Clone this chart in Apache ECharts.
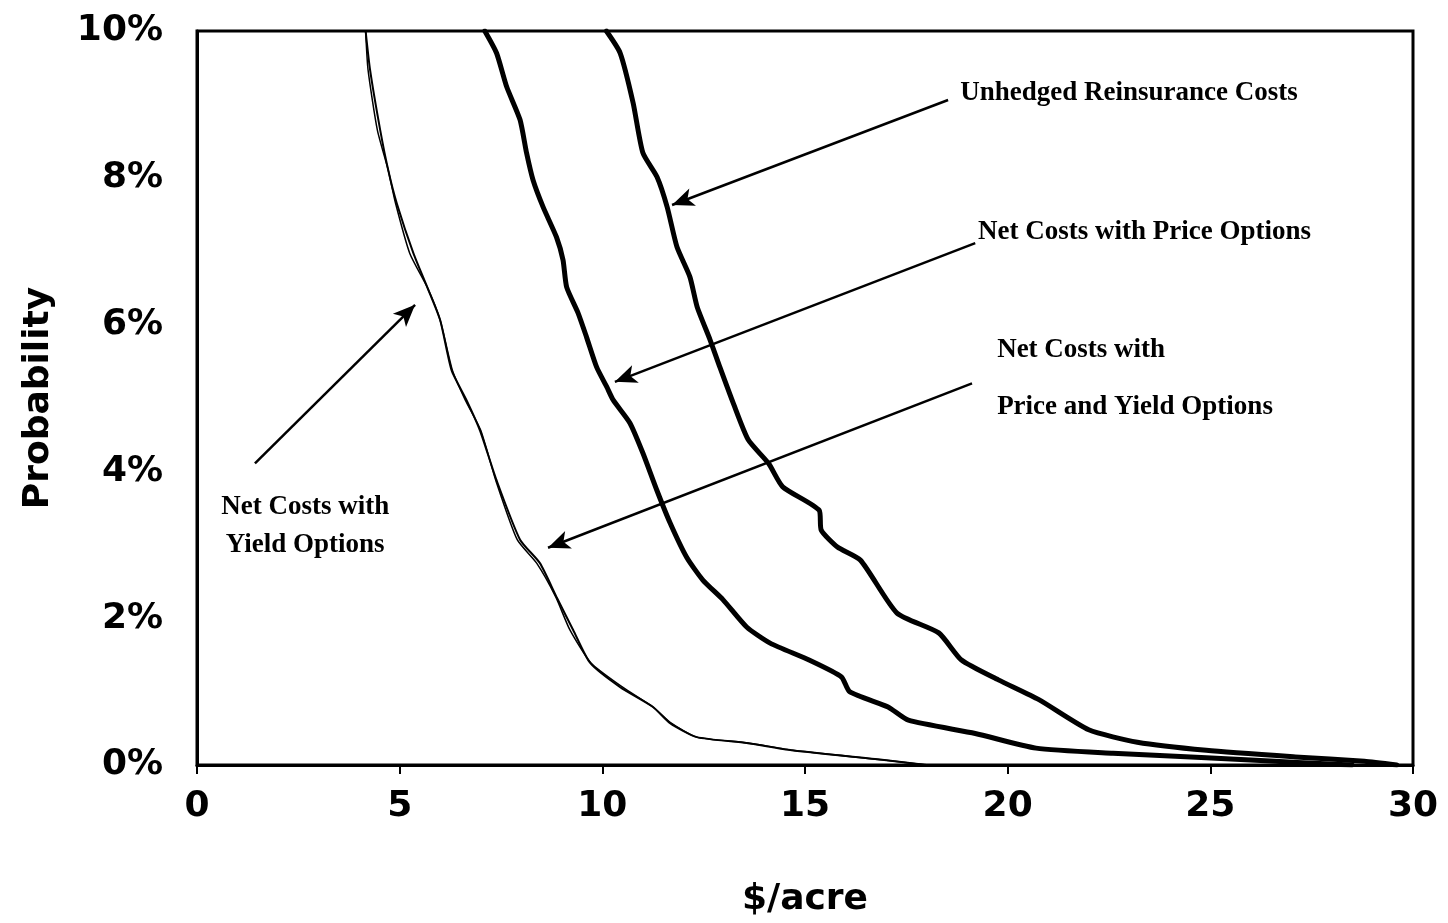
<!DOCTYPE html>
<html>
<head>
<meta charset="utf-8">
<script src="https://cdn.jsdelivr.net/npm/echarts@6/dist/echarts.min.js"></script>
<style>
html,body{margin:0;padding:0;background:#fff;}
#chart{width:1448px;height:923px;}
</style>
</head>
<body>
<div id="chart"></div>
<script>
// ---- Data ($/acre, probability %) ----
const unhedgedX = [10.1, 10.44, 10.76, 11.0, 11.35, 11.6, 11.84, 12.16, 12.34, 12.66, 12.9, 13.23, 13.6, 14.1, 14.45, 15.35, 15.4, 15.8, 16.37, 17.27, 18.3, 18.86, 19.77, 20.77, 22.0, 23.2, 24.9, 27.1, 28.8, 29.6];
const unhedgedY = [10, 9.7, 9.02, 8.34, 8.01, 7.6, 7.06, 6.65, 6.24, 5.79, 5.42, 4.93, 4.43, 4.11, 3.79, 3.47, 3.2, 2.97, 2.79, 2.07, 1.8, 1.43, 1.16, 0.89, 0.48, 0.31, 0.2, 0.11, 0.05, 0];

const priceX = [7.1, 7.39, 7.64, 7.97, 8.13, 8.29, 8.54, 8.87, 9.03, 9.12, 9.4, 9.61, 9.86, 10.11, 10.27, 10.68, 11.0, 11.34, 11.67, 12.08, 12.48, 12.98, 13.56, 14.14, 15.1, 15.9, 16.1, 17.05, 17.55, 19.2, 20.7, 22.6, 24.9, 26.6, 27.7, 28.5];
const priceY = [10, 9.7, 9.24, 8.79, 8.34, 7.97, 7.6, 7.19, 6.88, 6.51, 6.16, 5.83, 5.42, 5.15, 4.97, 4.66, 4.25, 3.75, 3.3, 2.83, 2.52, 2.25, 1.88, 1.66, 1.43, 1.2, 1.0, 0.79, 0.61, 0.43, 0.23, 0.16, 0.1, 0.05, 0.02, 0];

const yieldX = [4.16, 4.27, 4.52, 4.72, 4.93, 5.34, 5.68, 6.0, 6.28, 6.65, 6.98, 7.39, 7.97, 8.46, 8.87, 9.28, 9.7, 10.44, 11.25, 11.67, 12.33, 13.56, 14.67, 16.9, 18.0];
const yieldY = [10, 9.47, 8.65, 8.1, 7.65, 6.97, 6.51, 6.06, 5.38, 4.97, 4.56, 3.88, 3.07, 2.75, 2.29, 1.84, 1.39, 1.06, 0.79, 0.57, 0.38, 0.3, 0.2, 0.07, 0];

const priceYieldX = [4.16, 4.22, 4.45, 4.72, 4.9, 5.25, 5.68, 6.0, 6.3, 6.62, 7.0, 7.37, 7.9, 8.38, 8.85, 9.2, 9.72, 10.5, 11.25, 11.7, 12.33, 13.6, 14.7, 16.9, 18.0];
const priceYieldY = [10, 9.47, 8.65, 8.1, 7.65, 6.97, 6.51, 6.06, 5.38, 4.97, 4.56, 3.88, 3.07, 2.75, 2.29, 1.84, 1.39, 1.06, 0.79, 0.57, 0.38, 0.3, 0.2, 0.07, 0];

// ---- Axes ----
const xTicks = [0, 5, 10, 15, 20, 25, 30];
const yTicks = [0, 2, 4, 6, 8, 10];

// ---- Annotations (data coords) ----
const annoText  = ['Unhedged Reinsurance Costs', 'Net Costs with Price Options', 'Net Costs with', 'Price and Yield Options', 'Net Costs with', 'Yield Options'];
const annoX     = [18.83, 19.27, 19.74, 19.74, 2.67, 2.67];
const annoY     = [9.16, 7.26, 5.65, 4.88, 3.51, 3.0];
const annoAlign = ['left', 'left', 'left', 'left', 'center', 'center'];

const arrowFromX = [18.53, 19.2, 19.12, 1.43];
const arrowFromY = [9.06, 7.11, 5.2, 4.11];
const arrowToX   = [11.72, 10.31, 8.66, 5.38];
const arrowToY   = [7.63, 5.22, 2.96, 6.27];

const zip = (xs, ys) => xs.map((x, i) => [x, ys[i]]);

const chart = echarts.init(document.getElementById('chart'), null, {renderer: 'canvas'});

const axisFont = {fontFamily: 'DejaVu Sans', fontWeight: 'bold', fontSize: 36, color: '#000'};

const arrows = arrowFromX.map((x, i) => [
  {coord: [x, arrowFromY[i]], symbol: 'none'},
  {coord: [arrowToX[i], arrowToY[i]], symbol: 'arrow'}
]);

const option = {
  animation: false,
  backgroundColor: '#fff',
  grid: {left: 197, right: 35, top: 31, bottom: 158, show: true, borderColor: '#000', borderWidth: 3, backgroundColor: 'transparent'},
  xAxis: {
    type: 'value', min: xTicks[0], max: xTicks[xTicks.length - 1], interval: 5,
    name: '$/acre', nameLocation: 'middle', nameGap: 117,
    nameTextStyle: axisFont,
    axisLine: {show: true, lineStyle: {color: '#000', width: 3}},
    axisTick: {show: true, length: 9, lineStyle: {color: '#000', width: 2}},
    axisLabel: Object.assign({margin: 24}, axisFont),
    splitLine: {show: false}
  },
  yAxis: {
    type: 'value', min: yTicks[0], max: yTicks[yTicks.length - 1], interval: 2,
    name: 'Probability', nameLocation: 'middle', nameGap: 140,
    nameTextStyle: axisFont,
    axisLine: {show: true, lineStyle: {color: '#000', width: 3}},
    axisTick: {show: false},
    axisLabel: Object.assign({margin: 34, formatter: '{value}%'}, axisFont),
    splitLine: {show: false}
  },
  series: [
    {name: 'Unhedged Reinsurance Costs', type: 'line', data: zip(unhedgedX, unhedgedY), showSymbol: false, symbol: 'none',
     smooth: 0.2, lineStyle: {color: '#000', width: 5, join: 'round', cap: 'round'}, clip: true,
     markLine: {silent: true, symbol: ['none', 'arrow'], symbolSize: [14, 22], label: {show: false},
       lineStyle: {color: '#000', width: 2.5, type: 'solid'}, data: arrows}},
    {name: 'Net Costs with Price Options', type: 'line', data: zip(priceX, priceY), showSymbol: false, symbol: 'none',
     smooth: 0.2, lineStyle: {color: '#000', width: 5, join: 'round', cap: 'round'}, clip: true},
    {name: 'Net Costs with Yield Options', type: 'line', data: zip(yieldX, yieldY), showSymbol: false, symbol: 'none',
     smooth: 0.2, lineStyle: {color: '#000', width: 2}, clip: true},
    {name: 'Net Costs with Price and Yield Options', type: 'line', data: zip(priceYieldX, priceYieldY), showSymbol: false, symbol: 'none',
     smooth: 0.2, lineStyle: {color: '#000', width: 1.5}, clip: true}
  ]
};
chart.setOption(option);

const graphics = annoText.map((t, i) => {
  const p = chart.convertToPixel({gridIndex: 0}, [annoX[i], annoY[i]]);
  return {
    type: 'text', x: p[0], y: p[1], z: 100,
    style: {text: t, fill: '#000', font: 'bold 27px "Liberation Serif", "Times New Roman", serif',
            textAlign: annoAlign[i], textVerticalAlign: 'middle'}
  };
});
chart.setOption({graphic: graphics});
</script>
</body>
</html>
